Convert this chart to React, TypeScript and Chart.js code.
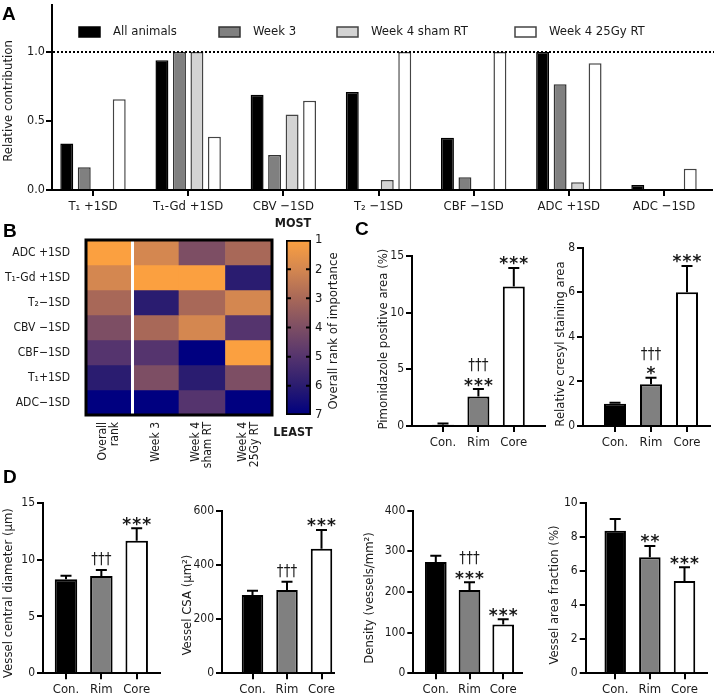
import React, { useEffect, useRef } from "react";
import { Chart, registerables } from "chart.js";

Chart.register(...registerables);

const FF = "'Liberation Sans Narrow', 'DejaVu Sans Condensed', 'Open Sans', sans-serif";
const TXT = "#1a1a1a";
Chart.defaults.font.family = FF;
Chart.defaults.color = TXT;

// ---------------- Panel A data ----------------
const A_CATEGORIES = ["T₁ +1SD", "T₁-Gd +1SD", "CBV −1SD", "T₂ −1SD", "CBF −1SD", "ADC +1SD", "ADC −1SD"];
const A_SERIES = ["All animals", "Week 3", "Week 4 sham RT", "Week 4 25Gy RT"];
const A_ALL_ANIMALS = [0.336, 0.939, 0.69, 0.709, 0.379, 1.0, 0.036];
const A_WEEK3 = [0.164, 1.0, 0.254, 0, 0.092, 0.766, 0];
const A_SHAM_RT = [0, 1.0, 0.547, 0.072, 0, 0.056, 0];
const A_25GY_RT = [0.658, 0.385, 0.646, 1.0, 1.0, 0.918, 0.154];
const A_REFERENCE_LEVEL = 1.0;
const A_Y_TICK_STEP = 0.5;
const A_Y_MAX = 1.34;

// ---------------- Panel B data ----------------
const B_ROWS = ["ADC +1SD", "T₁-Gd +1SD", "T₂−1SD", "CBV −1SD", "CBF−1SD", "T₁+1SD", "ADC−1SD"];
const B_COLUMNS = [["Overall", "rank"], ["Week 3"], ["Week 4", "sham RT"], ["Week 4", "25Gy RT"]];
const RANK_OVERALL = [1, 2, 3, 4, 5, 6, 7];
const RANK_WEEK3 = [2, 1, 6, 3, 5, 4, 7];
const RANK_SHAM_RT = [4, 1, 3, 2, 7, 6, 5];
const RANK_25GY_RT = [3, 6, 2, 5, 1, 4, 7];
const RANK_TICKS = [1, 2, 3, 4, 5, 6, 7];
const RANK_COLORS = [
  [251, 160, 64],
  [212, 135, 80],
  [168, 104, 88],
  [125, 78, 100],
  [85, 52, 110],
  [42, 28, 112],
  [0, 0, 128],
];

// ---------------- Panels C & D data ----------------
const GROUPS = ["Con.", "Rim", "Core"];
const PIMO_MEAN = [0.1, 2.6, 12.3];
const PIMO_SEM = [0.12, 0.66, 1.65];
const PIMO_SIG = [[], ["***", "†††"], ["***"]];
const CRESYL_MEAN = [1.0, 1.87, 6.0];
const CRESYL_SEM = [0.04, 0.3, 1.18];
const CRESYL_SIG = [[], ["*", "†††"], ["***"]];
const DIAM_MEAN = [8.27, 8.56, 11.66];
const DIAM_SEM = [0.31, 0.52, 1.09];
const DIAM_SIG = [[], ["†††"], ["***"]];
const CSA_MEAN = [289, 307, 460];
const CSA_SEM = [16, 31, 69];
const CSA_SIG = [[], ["†††"], ["***"]];
const DENS_MEAN = [274, 205, 120];
const DENS_SEM = [15, 19, 13];
const DENS_SIG = [[], ["***", "†††"], ["***"]];
const AREA_MEAN = [8.39, 6.82, 5.43];
const AREA_SEM = [0.69, 0.67, 0.81];
const AREA_SIG = [[], ["**"], ["***"]];

const GROUP_FILL = ["#000000", "#808080", "#ffffff"];

// ---------------- helpers ----------------
type Rect = { x: number; y: number; w: number; h: number };
type Area = { left: number; top: number; right: number; bottom: number };

const TICK_FONT = 12;
const LABEL_FONT = 13;
const TITLE_FONT = 13;

function lay(rect: Rect, area: Area) {
  return {
    padding: { left: 0, top: area.top - rect.y, right: rect.x + rect.w - area.right, bottom: 0 },
    yW: area.left - rect.x,
    xH: rect.y + rect.h - area.bottom,
  };
}

const fitBox = (dim: "width" | "height", size: number) => (s: any) => {
  s[dim] = size;
  s.paddingLeft = 0;
  s.paddingRight = 0;
  s.paddingTop = 0;
  s.paddingBottom = 0;
};

function rankColor(r: number) {
  const t = Math.max(1, Math.min(7, r)) - 1;
  const i = Math.min(5, Math.floor(t));
  const f = t - i;
  const a = RANK_COLORS[i], b = RANK_COLORS[i + 1];
  const c = a.map((v, k) => Math.round(v + (b[k] - v) * f));
  return `rgb(${c[0]},${c[1]},${c[2]})`;
}

function drawRotated(ctx: CanvasRenderingContext2D, text: string, x: number, y: number, font: string, align: CanvasTextAlign = "center") {
  ctx.save();
  ctx.translate(x, y);
  ctx.rotate(-Math.PI / 2);
  ctx.font = font;
  ctx.fillStyle = TXT;
  ctx.textAlign = align;
  ctx.textBaseline = "middle";
  ctx.fillText(text, 0, 0);
  ctx.restore();
}

const axisGrid = { display: true, drawOnChartArea: false, drawTicks: true, tickLength: 6, lineWidth: 2, color: "#000", offset: false };
const axisBorder = { display: true, width: 2, color: "#000" };

function CanvasChart({ rect, make }: { rect: Rect; make: () => any }) {
  const ref = useRef<HTMLCanvasElement | null>(null);
  useEffect(() => {
    const chart = new Chart(ref.current as HTMLCanvasElement, make());
    return () => chart.destroy();
  }, []);
  return (
    <canvas
      ref={ref}
      width={rect.w}
      height={rect.h}
      style={{ position: "absolute", left: rect.x, top: rect.y, width: rect.w, height: rect.h }}
    />
  );
}

// ---------------- Panel A ----------------
const A_RECT: Rect = { x: 0, y: -10, w: 714, h: 235 };
const A_AREA: Area = { left: 52, top: 5, right: 712, bottom: 190 };

function makeA() {
  const L = lay(A_RECT, A_AREA);
  const c0 = 93, sp = 95.17;
  const xmin = -(c0 - A_AREA.left) / sp;
  const xmax = xmin + (A_AREA.right - A_AREA.left) / sp;
  const series = [A_ALL_ANIMALS, A_WEEK3, A_SHAM_RT, A_25GY_RT];
  const fills = ["#000000", "#808080", "#d3d3d3", "#ffffff"];
  const edges = ["#000000", "#333333", "#444444", "#444444"];
  return {
    type: "bar",
    data: {
      datasets: series.map((vals, k) => ({
        label: A_SERIES[k],
        data: vals.map((v, i) => ({ x: i, y: v })),
        backgroundColor: fills[k],
        borderColor: edges[k],
        borderWidth: 1.5,
        categoryPercentage: 0.735,
        barPercentage: 0.74,
      })),
    },
    options: {
      responsive: false,
      animation: false,
      devicePixelRatio: 1,
      layout: { padding: L.padding },
      plugins: { legend: { display: false }, tooltip: { enabled: false } },
      scales: {
        x: {
          type: "linear",
          min: xmin,
          max: xmax,
          offset: false,
          z: 1,
          grid: axisGrid,
          border: axisBorder,
          ticks: {
            stepSize: 1,
            includeBounds: false,
            autoSkip: false,
            maxRotation: 0,
            padding: 3,
            font: { size: LABEL_FONT },
            callback: (v: any) => A_CATEGORIES[v] ?? "",
          },
          afterFit: fitBox("height", L.xH),
        },
        y: {
          type: "linear",
          min: 0,
          max: A_Y_MAX,
          z: 1,
          grid: axisGrid,
          border: axisBorder,
          ticks: {
            stepSize: A_Y_TICK_STEP,
            includeBounds: false,
            padding: 1,
            font: { size: 12.5 },
            callback: (v: any) => Number(v).toFixed(1),
          },
          afterFit: fitBox("width", L.yW),
        },
      },
    },
    plugins: [
      {
        id: "aDeco",
        afterDatasetsDraw(chart: any) {
          const { ctx, chartArea } = chart;
          const y = chart.scales.y.getPixelForValue(A_REFERENCE_LEVEL);
          ctx.save();
          ctx.strokeStyle = "#000";
          ctx.lineWidth = 2;
          ctx.setLineDash([2, 2]);
          ctx.beginPath();
          ctx.moveTo(chartArea.left + 1, y);
          ctx.lineTo(chart.width, y);
          ctx.stroke();
          ctx.restore();
        },
        afterDraw(chart: any) {
          const { ctx } = chart;
          ctx.save();
          const legendX = [79, 219, 337, 515];
          const ly = 32 - A_RECT.y;
          ctx.font = `${LABEL_FONT}px ${FF}`;
          ctx.textBaseline = "middle";
          ctx.textAlign = "left";
          A_SERIES.forEach((name, k) => {
            const x = legendX[k] - A_RECT.x;
            ctx.fillStyle = fills[k];
            ctx.fillRect(x, ly - 5, 21, 10);
            ctx.strokeStyle = edges[k];
            ctx.lineWidth = 1.5;
            ctx.strokeRect(x, ly - 5, 21, 10);
            ctx.fillStyle = TXT;
            ctx.fillText(name, x + 34, ly);
          });
          ctx.restore();
          drawRotated(ctx, "Relative contribution", 9 - A_RECT.x, 101 - A_RECT.y, `${TITLE_FONT}px ${FF}`);
        },
      },
    ],
  };
}

// ---------------- Panel B heatmap ----------------
const B_RECT: Rect = { x: 0, y: 215, w: 285, h: 275 };
const B_AREA: Area = { left: 86, top: 240, right: 272, bottom: 415 };
const B_RANKS = [RANK_OVERALL, RANK_WEEK3, RANK_SHAM_RT, RANK_25GY_RT];

function makeHeat() {
  const pad = {
    left: B_AREA.left - B_RECT.x,
    top: B_AREA.top - B_RECT.y,
    right: B_RECT.x + B_RECT.w - B_AREA.right,
    bottom: B_RECT.y + B_RECT.h - B_AREA.bottom,
  };
  return {
    type: "bar",
    data: {
      labels: B_COLUMNS.map((c) => c.join(" ")),
      datasets: B_ROWS.map((name, r) => ({
        label: name,
        data: B_COLUMNS.map(() => 1),
        backgroundColor: B_RANKS.map((col) => rankColor(col[r])),
        borderWidth: 0,
        barPercentage: 1,
        categoryPercentage: 1,
      })),
    },
    options: {
      responsive: false,
      animation: false,
      devicePixelRatio: 1,
      layout: { padding: pad },
      plugins: { legend: { display: false }, tooltip: { enabled: false } },
      scales: {
        x: { display: false, stacked: true },
        y: { display: false, stacked: true, min: 0, max: B_ROWS.length, reverse: true },
      },
    },
    plugins: [
      {
        id: "heatDeco",
        afterDatasetsDraw(chart: any) {
          const { ctx, chartArea: a } = chart;
          const xs = chart.scales.x, ys = chart.scales.y;
          ctx.save();
          const sx = xs.getPixelForValue(0.5);
          ctx.strokeStyle = "#fff";
          ctx.lineWidth = 3;
          ctx.beginPath();
          ctx.moveTo(sx, a.top);
          ctx.lineTo(sx, a.bottom);
          ctx.stroke();
          ctx.strokeStyle = "#000";
          ctx.lineWidth = 3;
          ctx.strokeRect(a.left, a.top, a.right - a.left, a.bottom - a.top);
          ctx.fillStyle = TXT;
          ctx.font = `12px ${FF}`;
          ctx.textAlign = "right";
          ctx.textBaseline = "middle";
          B_ROWS.forEach((name, r) => {
            ctx.fillText(name, 70 - B_RECT.x, ys.getPixelForValue(r + 0.5));
          });
          ctx.restore();
          B_COLUMNS.forEach((lines, c) => {
            const cx = xs.getPixelForValue(c);
            lines.forEach((t, k) => {
              const off = (k - (lines.length - 1) / 2) * 12;
              drawRotated(ctx, t, cx + off, 422 - B_RECT.y, `12px ${FF}`, "right");
            });
          });
        },
      },
    ],
  };
}

// ---------------- Panel B colour bar ----------------
const CB_RECT: Rect = { x: 270, y: 205, w: 90, h: 245 };
const CB_AREA: Area = { left: 286, top: 240, right: 311, bottom: 415 };

function makeColorbar() {
  const pad = {
    left: CB_AREA.left - CB_RECT.x,
    top: CB_AREA.top - CB_RECT.y,
    right: 0,
    bottom: CB_RECT.y + CB_RECT.h - CB_AREA.bottom,
  };
  const yW = CB_RECT.x + CB_RECT.w - CB_AREA.right;
  return {
    type: "bar",
    data: {
      labels: ["rank"],
      datasets: [
        {
          data: [[RANK_TICKS[0], RANK_TICKS[RANK_TICKS.length - 1]]],
          backgroundColor: (context: any) => {
            const ch = context.chart;
            const ys = ch.scales && ch.scales.y;
            if (!ch.chartArea || !ys) return rankColor(4);
            const y1 = ys.getPixelForValue(RANK_TICKS[0]);
            const y7 = ys.getPixelForValue(RANK_TICKS[RANK_TICKS.length - 1]);
            const g = ch.ctx.createLinearGradient(0, y1, 0, y7);
            RANK_TICKS.forEach((r, k) => g.addColorStop(k / (RANK_TICKS.length - 1), rankColor(r)));
            return g;
          },
          borderColor: "#000",
          borderWidth: 2,
          borderSkipped: false,
          barPercentage: 1,
          categoryPercentage: 1,
        },
      ],
    },
    options: {
      responsive: false,
      animation: false,
      devicePixelRatio: 1,
      layout: { padding: pad },
      plugins: { legend: { display: false }, tooltip: { enabled: false } },
      scales: {
        x: { display: false },
        y: {
          position: "right",
          min: 1,
          max: 7,
          reverse: true,
          grid: { display: false, drawTicks: false },
          border: { display: false },
          ticks: { stepSize: 1, padding: 4, font: { size: 13 } },
          afterFit: fitBox("width", yW),
        },
      },
    },
    plugins: [
      {
        id: "cbDeco",
        afterDraw(chart: any) {
          const { ctx, chartArea: a } = chart;
          const ys = chart.scales.y;
          ctx.save();
          ctx.strokeStyle = "#000";
          ctx.lineWidth = 2;
          RANK_TICKS.slice(1, -1).forEach((r) => {
            const y = ys.getPixelForValue(r);
            ctx.beginPath();
            ctx.moveTo(a.left, y);
            ctx.lineTo(a.left + 5, y);
            ctx.moveTo(a.right - 5, y);
            ctx.lineTo(a.right, y);
            ctx.stroke();
          });
          ctx.fillStyle = TXT;
          ctx.font = `bold 12.5px ${FF}`;
          ctx.textAlign = "center";
          ctx.textBaseline = "middle";
          ctx.fillText("MOST", 293 - CB_RECT.x, 224 - CB_RECT.y);
          ctx.fillText("LEAST", 293 - CB_RECT.x, 433 - CB_RECT.y);
          ctx.restore();
          drawRotated(ctx, "Overall rank of importance", 334 - CB_RECT.x, 331 - CB_RECT.y, `${TITLE_FONT}px ${FF}`);
        },
      },
    ],
  };
}

// ---------------- Panels C & D ----------------
type SmallSpec = {
  rect: Rect;
  area: Area;
  c0: number;
  sp: number;
  barW: number;
  yMax: number;
  yStep: number;
  means: number[];
  sems: number[];
  sig: string[][];
  title: string;
  titleX: number;
  titleY: number;
};

function drawSymbols(ctx: CanvasRenderingContext2D, text: string, cx: number, cy: number) {
  const ch = text[0];
  const isStar = ch === "*";
  ctx.font = isStar ? `bold 17px 'DejaVu Sans', sans-serif` : `15px ${FF}`;
  const step = isStar ? 10 : 6.8;
  const m = ctx.measureText(ch);
  const base = cy + (m.actualBoundingBoxAscent - m.actualBoundingBoxDescent) / 2;
  ctx.textAlign = "center";
  ctx.textBaseline = "alphabetic";
  for (let k = 0; k < text.length; k++) {
    ctx.fillText(ch, cx + (k - (text.length - 1) / 2) * step, base);
  }
}

function makeSmall(s: SmallSpec) {
  const L = lay(s.rect, s.area);
  const xmin = -(s.c0 - s.area.left) / s.sp;
  const xmax = xmin + (s.area.right - s.area.left) / s.sp;
  return {
    type: "bar",
    data: {
      datasets: [
        {
          data: s.means.map((m, i) => ({ x: i, y: m })),
          backgroundColor: GROUP_FILL,
          borderColor: "#000",
          borderWidth: 2,
          barPercentage: s.barW / s.sp,
          categoryPercentage: 1,
        },
      ],
    },
    options: {
      responsive: false,
      animation: false,
      devicePixelRatio: 1,
      layout: { padding: L.padding },
      plugins: { legend: { display: false }, tooltip: { enabled: false } },
      scales: {
        x: {
          type: "linear",
          min: xmin,
          max: xmax,
          offset: false,
          z: 1,
          grid: axisGrid,
          border: axisBorder,
          ticks: {
            stepSize: 1,
            includeBounds: false,
            autoSkip: false,
            maxRotation: 0,
            padding: 3,
            font: { size: LABEL_FONT },
            callback: (v: any) => GROUPS[v] ?? "",
          },
          afterFit: fitBox("height", L.xH),
        },
        y: {
          type: "linear",
          min: 0,
          max: s.yMax,
          z: 1,
          grid: axisGrid,
          border: axisBorder,
          ticks: { stepSize: s.yStep, padding: 2, font: { size: TICK_FONT } },
          afterFit: fitBox("width", L.yW),
        },
      },
    },
    plugins: [
      {
        id: "errSig",
        afterDatasetsDraw(chart: any) {
          const { ctx } = chart;
          const xs = chart.scales.x, ys = chart.scales.y;
          ctx.save();
          ctx.strokeStyle = "#000";
          ctx.lineWidth = 2;
          s.means.forEach((m, i) => {
            const x = xs.getPixelForValue(i);
            const y0 = ys.getPixelForValue(m);
            const y1 = ys.getPixelForValue(m + s.sems[i]);
            ctx.beginPath();
            ctx.moveTo(x, y0);
            ctx.lineTo(x, y1);
            ctx.moveTo(x - 5.5, y1);
            ctx.lineTo(x + 5.5, y1);
            ctx.stroke();
          });
          ctx.fillStyle = TXT;
          s.means.forEach((m, i) => {
            const x = xs.getPixelForValue(i);
            const top = ys.getPixelForValue(m + s.sems[i]);
            let cy = top;
            s.sig[i].forEach((line, k) => {
              if (k === 0) cy = top - (line[0] === "*" ? 7 : 11);
              else cy -= 17;
              drawSymbols(ctx, line, x, cy);
            });
          });
          ctx.restore();
        },
        afterDraw(chart: any) {
          drawRotated(chart.ctx, s.title, s.titleX - s.rect.x, s.titleY - s.rect.y, `${TITLE_FONT}px ${FF}`);
        },
      },
    ],
  };
}

const SMALL_SPECS: SmallSpec[] = [
  {
    rect: { x: 350, y: 235, w: 200, h: 225 },
    area: { left: 412, top: 256, right: 545, bottom: 426 },
    c0: 443, sp: 35.4, barW: 22, yMax: 15, yStep: 5,
    means: PIMO_MEAN, sems: PIMO_SEM, sig: PIMO_SIG,
    title: "Pimonidazole positive area (%)", titleX: 384, titleY: 339,
  },
  {
    rect: { x: 550, y: 235, w: 164, h: 225 },
    area: { left: 583, top: 247.7, right: 710, bottom: 426 },
    c0: 615, sp: 36, barW: 22, yMax: 8, yStep: 2,
    means: CRESYL_MEAN, sems: CRESYL_SEM, sig: CRESYL_SIG,
    title: "Relative cresyl staining area", titleX: 561, titleY: 344,
  },
  {
    rect: { x: 0, y: 490, w: 172, h: 208 },
    area: { left: 43, top: 502.7, right: 160, bottom: 673.3 },
    c0: 66, sp: 35.35, barW: 22.5, yMax: 15, yStep: 5,
    means: DIAM_MEAN, sems: DIAM_SEM, sig: DIAM_SIG,
    title: "Vessel central diameter (µm)", titleX: 8.5, titleY: 593,
  },
  {
    rect: { x: 175, y: 490, w: 170, h: 208 },
    area: { left: 222, top: 510.7, right: 334, bottom: 673.3 },
    c0: 252.5, sp: 34.5, barW: 21.5, yMax: 600, yStep: 200,
    means: CSA_MEAN, sems: CSA_SEM, sig: CSA_SIG,
    title: "Vessel CSA (µm²)", titleX: 188, titleY: 605,
  },
  {
    rect: { x: 355, y: 490, w: 175, h: 208 },
    area: { left: 413.3, top: 510.7, right: 522, bottom: 673.3 },
    c0: 435.8, sp: 33.7, barW: 21.7, yMax: 400, yStep: 100,
    means: DENS_MEAN, sems: DENS_SEM, sig: DENS_SIG,
    title: "Density (vessels/mm²)", titleX: 370, titleY: 598,
  },
  {
    rect: { x: 535, y: 490, w: 179, h: 208 },
    area: { left: 585.7, top: 503.3, right: 707, bottom: 673.3 },
    c0: 615.2, sp: 34.65, barW: 21.5, yMax: 10, yStep: 2,
    means: AREA_MEAN, sems: AREA_SEM, sig: AREA_SIG,
    title: "Vessel area fraction (%)", titleX: 555, titleY: 595,
  },
];

const PANEL_LETTERS = [
  { t: "A", x: 2, y: 4 },
  { t: "B", x: 3, y: 221 },
  { t: "C", x: 355, y: 219 },
  { t: "D", x: 3, y: 467 },
];

export default function App() {
  return (
    <div
      style={{
        position: "fixed",
        left: 0,
        top: 0,
        width: 714,
        height: 698,
        overflow: "hidden",
        background: "#fff",
      }}
    >
      <CanvasChart rect={A_RECT} make={makeA} />
      <CanvasChart rect={B_RECT} make={makeHeat} />
      <CanvasChart rect={CB_RECT} make={makeColorbar} />
      {SMALL_SPECS.map((s, i) => (
        <CanvasChart key={i} rect={s.rect} make={() => makeSmall(s)} />
      ))}
      {PANEL_LETTERS.map((p) => (
        <div
          key={p.t}
          style={{
            position: "absolute",
            left: p.x,
            top: p.y,
            font: "bold 19px 'Liberation Sans', Arial, sans-serif",
            lineHeight: "19px",
            color: "#000",
          }}
        >
          {p.t}
        </div>
      ))}
    </div>
  );
}
